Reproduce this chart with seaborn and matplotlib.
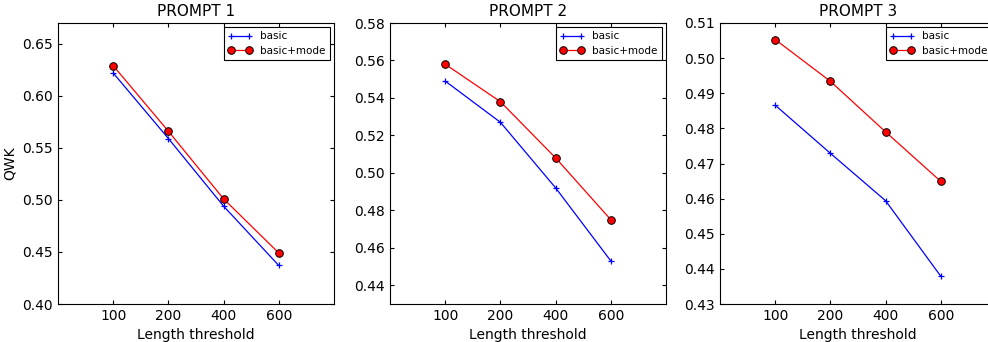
import matplotlib
matplotlib.use("Agg")
import matplotlib.pyplot as plt
import seaborn as sns
import pandas as pd

# data
thresholds = ["100", "200", "400", "600"]
p1_basic = [0.622, 0.559, 0.494, 0.437]
p1_mode = [0.629, 0.566, 0.501, 0.449]
p2_basic = [0.549, 0.527, 0.492, 0.453]
p2_mode = [0.558, 0.538, 0.508, 0.475]
p3_basic = [0.4866, 0.4729, 0.4594, 0.4379]
p3_mode = [0.5053, 0.4934, 0.4790, 0.4649]

titles = ["PROMPT 1", "PROMPT 2", "PROMPT 3"]
ylims = [(0.40, 0.67), (0.43, 0.58), (0.43, 0.51)]
yticks = [
    [0.40, 0.45, 0.50, 0.55, 0.60, 0.65],
    [0.44, 0.46, 0.48, 0.50, 0.52, 0.54, 0.56, 0.58],
    [0.43, 0.44, 0.45, 0.46, 0.47, 0.48, 0.49, 0.50, 0.51],
]
series = [(p1_basic, p1_mode), (p2_basic, p2_mode), (p3_basic, p3_mode)]

sns.set_style("white")
plt.rcParams.update({
    "font.family": ["DejaVu Sans"],
    "text.color": "black",
    "axes.labelcolor": "black",
    "xtick.color": "black",
    "ytick.color": "black",
    "xtick.direction": "in",
    "ytick.direction": "in",
    "xtick.top": True,
    "xtick.bottom": True,
    "ytick.left": True,
    "ytick.right": True,
    "xtick.major.size": 3,
    "ytick.major.size": 3,
    "xtick.major.width": 0.8,
    "ytick.major.width": 0.8,
    "xtick.labelsize": 10,
    "ytick.labelsize": 10,
    "axes.linewidth": 0.8,
    "axes.edgecolor": "black",
})

fig = plt.figure(figsize=(9.88, 3.42), dpi=100)
W, H = 988.0, 342.0
lefts = [58, 390, 720]
for i in range(3):
    ax = fig.add_axes([lefts[i] / W, 38 / H, 276 / W, 281 / H])
    basic, mode = series[i]
    df = pd.DataFrame({
        "pos": list(range(1, 5)) * 2,
        "qwk": basic + mode,
        "method": ["basic"] * 4 + ["basic+mode"] * 4,
    })
    sns.lineplot(data=df[df.method == "basic"], x="pos", y="qwk", ax=ax,
                 color="blue", marker="+", markersize=5, markeredgewidth=0.9,
                 markeredgecolor="blue", linewidth=0.9, label="basic")
    sns.lineplot(data=df[df.method == "basic+mode"], x="pos", y="qwk", ax=ax,
                 color="red", marker="o", markersize=5.5, markeredgecolor="black",
                 markeredgewidth=0.7, linewidth=0.9, label="basic+mode")
    ax.set_xlim(0, 5)
    ax.set_xticks(range(1, 5))
    ax.set_xticklabels(thresholds)
    ax.set_ylim(*ylims[i])
    ax.set_yticks(yticks[i])
    ax.set_yticklabels(["%.2f" % t for t in yticks[i]])
    ax.set_xlabel("Length threshold", fontsize=10)
    ax.set_ylabel("QWK" if i == 0 else "", fontsize=10)
    ax.set_title(titles[i], fontsize=11, pad=5)
    leg = ax.legend(loc="upper right", fontsize=7.5, numpoints=2, fancybox=False,
                    framealpha=1, edgecolor="black", borderaxespad=0.4,
                    handlelength=2.3, labelspacing=0.45, borderpad=0.4)
    leg.get_frame().set_linewidth(0.8)

fig.savefig("out.png", dpi=100)
